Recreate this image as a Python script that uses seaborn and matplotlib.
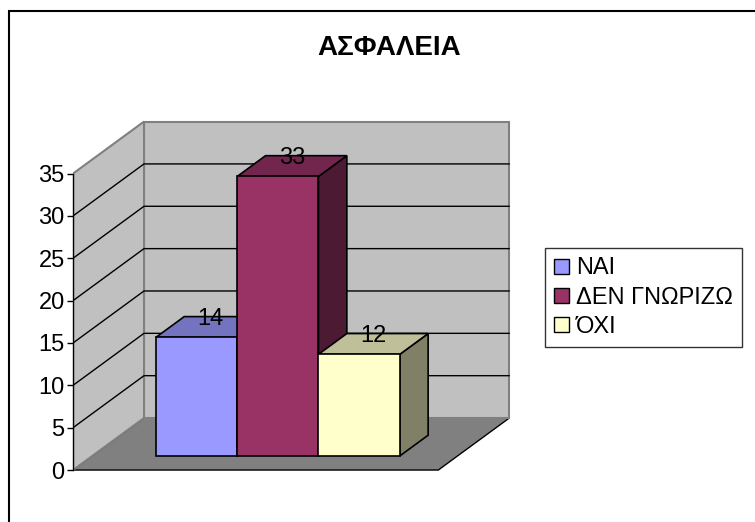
import matplotlib
matplotlib.use('Agg')
import matplotlib.pyplot as plt
from matplotlib.colors import to_rgb
from matplotlib.patches import Polygon, Rectangle
import pandas as pd
import seaborn as sns

# --- Data ---
title = 'ΑΣΦΑΛΕΙΑ'
categories = ['ΝΑΙ', 'ΔΕΝ ΓΝΩΡΙΖΩ', 'ΌΧΙ']
values = [14, 33, 12]
y_ticks = [0, 5, 10, 15, 20, 25, 30, 35]
front_colors = ['#9999FF', '#993366', '#FFFFCC']

df = pd.DataFrame({'Answer': categories, 'Count': values})

sns.set_style('white')
plt.rcParams['font.family'] = ['Liberation Sans', 'DejaVu Sans']
plt.rcParams['text.color'] = 'black'

# --- 3D box geometry (data units) ---
DX, DY = 0.873, 6.14      # shift over the full depth of the box
D0, D1 = 0.27, 0.67       # front / back of the bars inside the box
X_LEFT, X_RIGHT = -1.283, 3.21
TOP = y_ticks[-1]


def proj(x, v, d):
    return (x + DX * (d - D0), v + DY * (d - D0))


def shade(color, f):
    r, g, b = to_rgb(color)
    return (r * f, g * f, b * f)


fig = plt.figure(figsize=(7.55, 5.22), dpi=100)
ax = fig.add_axes([73 / 755, 42 / 522, 447 / 755, 380 / 522])

# --- front faces of the bars ---
sns.barplot(data=df, x='Answer', y='Count', hue='Answer', palette=front_colors,
            saturation=1, width=1.0, edgecolor='black', linewidth=1.2,
            legend=False, ax=ax, zorder=5)
bars = list(ax.patches)

# --- walls and floor ---
floor = [proj(X_LEFT, 0, 0), proj(X_RIGHT, 0, 0), proj(X_RIGHT, 0, 1), proj(X_LEFT, 0, 1)]
back = [proj(X_LEFT, 0, 1), proj(X_RIGHT, 0, 1), proj(X_RIGHT, TOP, 1), proj(X_LEFT, TOP, 1)]
side = [proj(X_LEFT, 0, 0), proj(X_LEFT, 0, 1), proj(X_LEFT, TOP, 1), proj(X_LEFT, TOP, 0)]
ax.add_patch(Polygon(floor, closed=True, facecolor='#808080', edgecolor='black', lw=1, zorder=0.5))
for poly in (back, side):
    ax.add_patch(Polygon(poly, closed=True, facecolor='#C0C0C0', edgecolor='#808080', lw=1.5, zorder=0.8))

for v in y_ticks[1:-1]:
    pts = [proj(X_LEFT, v, 0), proj(X_LEFT, v, 1), proj(X_RIGHT, v, 1)]
    ax.plot([p[0] for p in pts], [p[1] for p in pts], color='black', lw=1, zorder=1)

# --- top and side faces of the bars ---
ddx, ddy = DX * (D1 - D0), DY * (D1 - D0)
for i, p in enumerate(bars):
    x0, w, h = p.get_x(), p.get_width(), p.get_height()
    col = front_colors[i]
    top = [(x0, h), (x0 + w, h), (x0 + w + ddx, h + ddy), (x0 + ddx, h + ddy)]
    rside = [(x0 + w, 0), (x0 + w + ddx, ddy), (x0 + w + ddx, h + ddy), (x0 + w, h)]
    ax.add_patch(Polygon(rside, closed=True, facecolor=shade(col, 0.5), edgecolor='black', lw=1.2, zorder=2 + i))
    ax.add_patch(Polygon(top, closed=True, facecolor=shade(col, 0.75), edgecolor='black', lw=1.2, zorder=2 + i))
    ax.text(x0 + w / 2 + ddx / 2, h + ddy / 2 + 0.9, str(values[i]), color='black',
            ha='center', va='center', fontsize=17, zorder=10)

# --- axis ---
ax.set_xlim(-1.519, 3.979)
ax.set_ylim(-2.834, 42.03)
ax.set_yticks([v - DY * D0 for v in y_ticks])
ax.set_yticklabels([str(v) for v in y_ticks])
ax.set_xticks([])
ax.set_xlabel('')
ax.set_ylabel('')
for s in ['top', 'right', 'bottom']:
    ax.spines[s].set_visible(False)
ax.spines['left'].set_bounds(-DY * D0, TOP - DY * D0)
ax.spines['left'].set_color('black')
ax.spines['left'].set_linewidth(1)
ax.spines['left'].set_zorder(1.2)
ax.tick_params(axis='y', direction='out', length=4, width=1, colors='black', labelsize=17, pad=2, left=True)
ax.patch.set_visible(False)

# --- title, legend, frame ---
fig.text(389 / 755, 1 - 48 / 522, title, color='black', ha='center', va='center',
         fontsize=20, fontweight='bold')

handles = [Rectangle((0, 0), 1, 1, facecolor=c, edgecolor='black', lw=1) for c in front_colors]
leg = fig.legend(handles, categories, loc='upper left', bbox_to_anchor=(545 / 755, 1 - 248 / 522),
                 frameon=True, fancybox=False, edgecolor='black', fontsize=17,
                 handlelength=0.6, handleheight=0.6, handletextpad=0.3,
                 borderpad=0.4, labelspacing=0.3, borderaxespad=0)
leg.get_frame().set_linewidth(1.0)
for t in leg.get_texts():
    t.set_color('black')

fig.patches.append(Rectangle((9 / 755, -0.05), 1.0, 1 - 11 / 522 + 0.05, transform=fig.transFigure,
                             fill=False, edgecolor='black', lw=1.5))

fig.savefig('out.png', dpi=100)
